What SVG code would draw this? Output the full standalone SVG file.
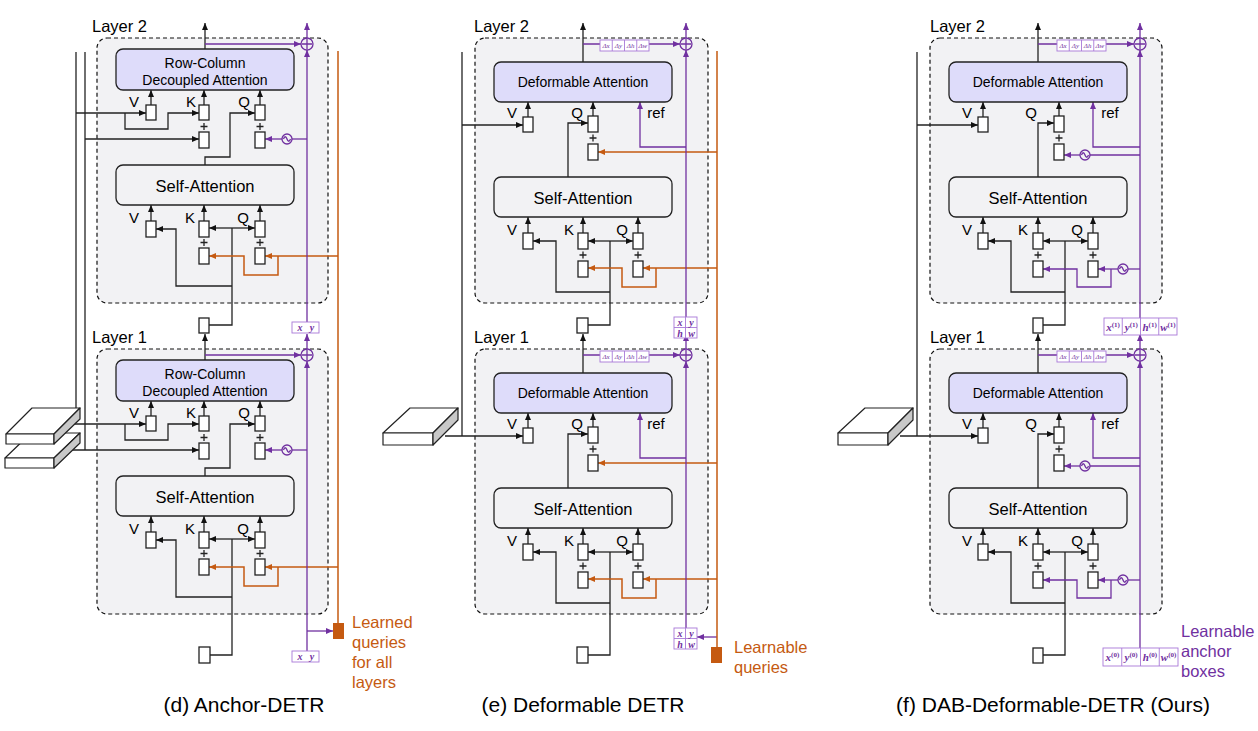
<svg xmlns="http://www.w3.org/2000/svg" width="1258" height="731" viewBox="0 0 1258 731">
<defs>
<style>
.layer{fill:#f2f2f4;stroke:#111;stroke-width:1.2;stroke-dasharray:4 3}
.att{fill:#dedcfa;stroke:#222;stroke-width:1.3}
.sa{fill:#f2f2f4;stroke:#222;stroke-width:1.3}
.bx{fill:#fff;stroke:#222;stroke-width:1.3}
.k{fill:none;stroke:#222;stroke-width:1.3}
.p{fill:none;stroke:#7030a0;stroke-width:1.3}
.o{fill:none;stroke:#c55a11;stroke-width:1.5}
.ka{marker-end:url(#ak)}
.pa{marker-end:url(#ap)}
.oa{marker-end:url(#ao)}
.cell{fill:#fff;stroke:#a878d8;stroke-width:0.9}
.slab{fill:#fff;stroke:#222;stroke-width:1.2;stroke-linejoin:round}
.side{fill:#c8c8c8;stroke:#222;stroke-width:1.2;stroke-linejoin:round}
text{font-family:"Liberation Sans",Arial,sans-serif;fill:#000}
.t14{font-size:14px;text-anchor:middle}
.t16{font-size:16.5px;text-anchor:middle}
.l{font-size:15px;text-anchor:middle}
.ly{font-size:16.5px}
.cap{font-size:21px;text-anchor:middle}
.ol{font-size:16.5px;fill:#c55a11}
.pl{font-size:16.5px;fill:#7030a0}
.m{font-family:"Liberation Serif",serif;font-style:italic;font-weight:bold;font-size:10px;fill:#7030a0;text-anchor:middle}
.ms{font-family:"Liberation Serif",serif;font-style:italic;font-size:7px;fill:#7030a0;text-anchor:middle}
.mb{font-family:"Liberation Serif",serif;font-style:italic;font-weight:bold;font-size:11px;fill:#7030a0;text-anchor:middle}
.sup{font-size:7px;font-style:normal}
</style>
<marker id="ak" viewBox="0 0 7 6" refX="7" refY="3" markerWidth="7" markerHeight="6" markerUnits="userSpaceOnUse" orient="auto"><path d="M0,0L7,3L0,6z" fill="#111"/></marker>
<marker id="ap" viewBox="0 0 7 6" refX="7" refY="3" markerWidth="7" markerHeight="6" markerUnits="userSpaceOnUse" orient="auto"><path d="M0,0L7,3L0,6z" fill="#7030a0"/></marker>
<marker id="ao" viewBox="0 0 7 6" refX="7" refY="3" markerWidth="7" markerHeight="6" markerUnits="userSpaceOnUse" orient="auto"><path d="M0,0L7,3L0,6z" fill="#c55a11"/></marker>
</defs>
<rect width="1258" height="731" fill="#fff"/>

<g id="layers">
<g id="d-layer2"><rect class="layer" x="97" y="38" width="231" height="265" rx="10"/><text class="ly" x="92" y="32">Layer 2</text></g>
<g id="d-layer1"><rect class="layer" x="97" y="349" width="231" height="265" rx="10"/><text class="ly" x="92" y="343">Layer 1</text></g>
<g id="e-layer2"><rect class="layer" x="475" y="38" width="233" height="265" rx="10"/><text class="ly" x="474" y="32">Layer 2</text></g>
<g id="e-layer1"><rect class="layer" x="475" y="349" width="233" height="265" rx="10"/><text class="ly" x="474" y="343">Layer 1</text></g>
<g id="f-layer2"><rect class="layer" x="930" y="38" width="232" height="265" rx="10"/><text class="ly" x="930" y="32">Layer 2</text></g>
<g id="f-layer1"><rect class="layer" x="930" y="349" width="232" height="265" rx="10"/><text class="ly" x="930" y="343">Layer 1</text></g>
</g>

<g id="connectors">
<!-- panel d, per layer -->
<g id="d2-conn">
<path class="k ka" d="M151,105V90"/><path class="k ka" d="M204,105V90"/><path class="k ka" d="M260,105V90"/>
<path class="k ka" d="M151,221V205"/><path class="k ka" d="M204,221V205"/><path class="k ka" d="M260,221V205"/>
<path class="k ka" d="M205,49V23"/>
<path class="k ka" d="M205,165V157H230V113H255"/>
<path class="k ka" d="M232,228H209"/><path class="k ka" d="M232,228H255"/><path class="k" d="M232,228V286"/>
<path class="k ka" d="M232,286H176V229H156"/>
<path class="o oa" d="M338,256H265"/><path class="o oa" d="M278,256V275H244V256H209"/>
<path class="p" d="M307,139H292"/><path class="p pa" d="M282,139H265"/>
<path class="p pa" d="M205,44H301"/><path class="p pa" d="M307,38V23"/>
</g>
<g id="d1-conn" transform="translate(0,311)">
<path class="k ka" d="M151,105V90"/><path class="k ka" d="M204,105V90"/><path class="k ka" d="M260,105V90"/>
<path class="k ka" d="M151,221V205"/><path class="k ka" d="M204,221V205"/><path class="k ka" d="M260,221V205"/>
<path class="k ka" d="M205,49V23"/>
<path class="k ka" d="M205,165V157H230V113H255"/>
<path class="k ka" d="M232,228H209"/><path class="k ka" d="M232,228H255"/><path class="k" d="M232,228V286"/>
<path class="k ka" d="M232,286H176V229H156"/>
<path class="o oa" d="M338,256H265"/><path class="o oa" d="M278,256V275H244V256H209"/>
<path class="p" d="M307,139H292"/><path class="p pa" d="M282,139H265"/>
<path class="p pa" d="M205,44H301"/><path class="p pa" d="M307,38V23"/>
</g>
<g id="d-ext">
<path class="k" d="M76,52V423"/><path class="k" d="M85,52V450"/>
<path class="k ka" d="M76,113H146"/><path class="k ka" d="M125,113V129H168V113H199"/><path class="k ka" d="M85,139H199"/>
<path class="k ka" d="M72,424H146"/><path class="k ka" d="M125,424V440H168V424H199"/><path class="k ka" d="M68,450H199"/>
<path class="k" d="M232,286V325H209"/><path class="k" d="M232,597V655H210"/>
<path class="p pa" d="M307,322V50"/><path class="p pa" d="M307,651V361"/><path class="p pa" d="M307,631H333"/>
<path class="o" d="M338,51V623"/>
</g>
<!-- panel e -->
<g id="e2-conn">
<path class="k ka" d="M528,117V102"/><path class="k ka" d="M593,116V102"/>
<path class="k ka" d="M528,233V217"/><path class="k ka" d="M583,233V217"/><path class="k ka" d="M638,233V217"/>
<path class="k ka" d="M583,62V23"/>
<path class="k ka" d="M568,177V123H588"/>
<path class="k ka" d="M610,241H588"/><path class="k ka" d="M610,241H633"/><path class="k" d="M610,241V292"/>
<path class="k ka" d="M610,292H556V241H533"/>
<path class="o oa" d="M717,152H598"/>
<path class="o oa" d="M717,268H643"/><path class="o oa" d="M656,268V287H622V268H588"/>
<path class="p pa" d="M686,147H640V102"/>
<path class="p pa" d="M583,44H680"/><path class="p pa" d="M686,38V23"/>
</g>
<g id="e1-conn" transform="translate(0,311)">
<path class="k ka" d="M528,117V102"/><path class="k ka" d="M593,116V102"/>
<path class="k ka" d="M528,233V217"/><path class="k ka" d="M583,233V217"/><path class="k ka" d="M638,233V217"/>
<path class="k ka" d="M583,62V23"/>
<path class="k ka" d="M568,177V123H588"/>
<path class="k ka" d="M610,241H588"/><path class="k ka" d="M610,241H633"/><path class="k" d="M610,241V292"/>
<path class="k ka" d="M610,292H556V241H533"/>
<path class="o oa" d="M717,152H598"/>
<path class="o oa" d="M717,268H643"/><path class="o oa" d="M656,268V287H622V268H588"/>
<path class="p pa" d="M686,147H640V102"/>
<path class="p pa" d="M583,44H680"/><path class="p pa" d="M686,38V23"/>
</g>
<g id="e-ext">
<path class="k" d="M462,52V436"/>
<path class="k ka" d="M462,125H523"/><path class="k ka" d="M445,436H523"/>
<path class="k" d="M610,292V325H588"/><path class="k" d="M610,603V655H588"/>
<path class="p pa" d="M686,317V50"/><path class="p pa" d="M686,628V361"/><path class="p pa" d="M717,637H697"/>
<path class="o" d="M717,51V647"/>
</g>
<!-- panel f -->
<g id="f2-conn">
<path class="k ka" d="M983,117V102"/><path class="k ka" d="M1059,116V102"/>
<path class="k ka" d="M983,233V217"/><path class="k ka" d="M1038,233V217"/><path class="k ka" d="M1093,233V217"/>
<path class="k ka" d="M1038,62V23"/>
<path class="k ka" d="M1038,177V123H1054"/>
<path class="k ka" d="M1065,241H1043"/><path class="k ka" d="M1065,241H1088"/><path class="k" d="M1065,241V292"/>
<path class="k ka" d="M1065,292H1011V241H988"/>
<path class="p pa" d="M1140,147H1093V102"/>
<path class="p" d="M1140,155H1090"/><path class="p pa" d="M1080,155H1064"/>
<path class="p pa" d="M1038,44H1134"/><path class="p pa" d="M1140,38V23"/>
<path class="p" d="M1140,269H1128"/><path class="p pa" d="M1118,269H1098"/>
<path class="p pa" d="M1111,269V287H1077V269H1043"/>
</g>
<g id="f1-conn" transform="translate(0,311)">
<path class="k ka" d="M983,117V102"/><path class="k ka" d="M1059,116V102"/>
<path class="k ka" d="M983,233V217"/><path class="k ka" d="M1038,233V217"/><path class="k ka" d="M1093,233V217"/>
<path class="k ka" d="M1038,62V23"/>
<path class="k ka" d="M1038,177V123H1054"/>
<path class="k ka" d="M1065,241H1043"/><path class="k ka" d="M1065,241H1088"/><path class="k" d="M1065,241V292"/>
<path class="k ka" d="M1065,292H1011V241H988"/>
<path class="p pa" d="M1140,147H1093V102"/>
<path class="p" d="M1140,155H1090"/><path class="p pa" d="M1080,155H1064"/>
<path class="p pa" d="M1038,44H1134"/><path class="p pa" d="M1140,38V23"/>
<path class="p" d="M1140,269H1128"/><path class="p pa" d="M1118,269H1098"/>
<path class="p pa" d="M1111,269V287H1077V269H1043"/>
</g>
<g id="f-ext">
<path class="k" d="M917,52V436"/>
<path class="k ka" d="M917,125H978"/><path class="k ka" d="M900,436H978"/>
<path class="k" d="M1065,292V325H1043"/><path class="k" d="M1065,603V655H1043"/>
<path class="p pa" d="M1140,318V50"/><path class="p pa" d="M1140,648V361"/>
</g>
</g>

<!-- ================= Panel d nodes ================= -->
<g id="d2-nodes">
<g id="d2-rca"><rect class="att" x="116" y="49" width="178" height="41" rx="7"/><text class="t14" x="205" y="68">Row-Column</text><text class="t14" x="205" y="85">Decoupled Attention</text></g>
<g id="d2-sa"><rect class="sa" x="116" y="165" width="178" height="40" rx="7"/><text class="t16" x="205" y="192">Self-Attention</text></g>
<g id="d2-v"><rect class="bx" x="146" y="105" width="10" height="15"/><text class="l" x="134" y="107">V</text></g>
<g id="d2-k"><rect class="bx" x="199" y="105" width="10" height="15"/><rect class="bx" x="199" y="132" width="10" height="16"/><path class="k" d="M200.5,126.5h7M204,123v7"/><text class="l" x="191" y="107">K</text></g>
<g id="d2-q"><rect class="bx" x="255" y="105" width="10" height="15"/><rect class="bx" x="255" y="132" width="10" height="16"/><path class="k" d="M256.5,126.5h7M260,123v7"/><text class="l" x="244" y="107">Q</text></g>
<g id="d2-sv"><rect class="bx" x="146" y="221" width="10" height="16"/><text class="l" x="134" y="223">V</text></g>
<g id="d2-sk"><rect class="bx" x="199" y="221" width="10" height="16"/><rect class="bx" x="199" y="248" width="10" height="16"/><path class="k" d="M200.5,242.5h7M204,239v7"/><text class="l" x="190" y="223">K</text></g>
<g id="d2-sq"><rect class="bx" x="255" y="221" width="10" height="16"/><rect class="bx" x="255" y="248" width="10" height="16"/><path class="k" d="M256.5,242.5h7M260,239v7"/><text class="l" x="243" y="223">Q</text></g>
<g id="d2-add"><circle class="p" cx="307" cy="44" r="6"/><path class="p" d="M302,44h10M307,39v10"/></g>
<g id="d2-pe"><circle class="p" cx="287" cy="139" r="5"/><path class="p" d="M283.5,139c1,-3 2.5,-3 3.5,0s2.5,3 3.5,0"/></g>
</g>
<g id="d1-nodes" transform="translate(0,311)">
<g id="d1-rca"><rect class="att" x="116" y="49" width="178" height="41" rx="7"/><text class="t14" x="205" y="68">Row-Column</text><text class="t14" x="205" y="85">Decoupled Attention</text></g>
<g id="d1-sa"><rect class="sa" x="116" y="165" width="178" height="40" rx="7"/><text class="t16" x="205" y="192">Self-Attention</text></g>
<g id="d1-v"><rect class="bx" x="146" y="105" width="10" height="15"/><text class="l" x="134" y="107">V</text></g>
<g id="d1-k"><rect class="bx" x="199" y="105" width="10" height="15"/><rect class="bx" x="199" y="132" width="10" height="16"/><path class="k" d="M200.5,126.5h7M204,123v7"/><text class="l" x="191" y="107">K</text></g>
<g id="d1-q"><rect class="bx" x="255" y="105" width="10" height="15"/><rect class="bx" x="255" y="132" width="10" height="16"/><path class="k" d="M256.5,126.5h7M260,123v7"/><text class="l" x="244" y="107">Q</text></g>
<g id="d1-sv"><rect class="bx" x="146" y="221" width="10" height="16"/><text class="l" x="134" y="223">V</text></g>
<g id="d1-sk"><rect class="bx" x="199" y="221" width="10" height="16"/><rect class="bx" x="199" y="248" width="10" height="16"/><path class="k" d="M200.5,242.5h7M204,239v7"/><text class="l" x="190" y="223">K</text></g>
<g id="d1-sq"><rect class="bx" x="255" y="221" width="10" height="16"/><rect class="bx" x="255" y="248" width="10" height="16"/><path class="k" d="M256.5,242.5h7M260,239v7"/><text class="l" x="243" y="223">Q</text></g>
<g id="d1-add"><circle class="p" cx="307" cy="44" r="6"/><path class="p" d="M302,44h10M307,39v10"/></g>
<g id="d1-pe"><circle class="p" cx="287" cy="139" r="5"/><path class="p" d="M283.5,139c1,-3 2.5,-3 3.5,0s2.5,3 3.5,0"/></g>
</g>
<g id="d-mid"><rect class="bx" x="199" y="318" width="10" height="15"/></g>
<g id="d-query"><rect class="bx" x="199" y="647" width="11" height="16"/></g>
<g id="d-xy2"><rect class="cell" x="292" y="322" width="27" height="11"/><text class="m" x="300" y="331">x</text><text class="m" x="312" y="331">y</text></g>
<g id="d-xy0"><rect class="cell" x="292" y="651" width="27" height="11"/><text class="m" x="300" y="660">x</text><text class="m" x="312" y="660">y</text></g>
<g id="d-lq"><rect x="333" y="623" width="11" height="16" fill="#c55a11"/></g>
<g id="d-feat">
<polygon class="slab" points="31,433 80,433 54,458 5,458"/><rect class="slab" x="5" y="458" width="49" height="10"/><polygon class="side" points="54,458 80,433 80,443 54,468"/>
<polygon class="slab" points="32,408 80,408 54,434 6,434"/><rect class="slab" x="6" y="434" width="48" height="10"/><polygon class="side" points="54,434 80,408 80,419 54,444"/>
</g>
<g id="d-label"><text class="ol" x="352" y="628">Learned</text><text class="ol" x="352" y="648">queries</text><text class="ol" x="352" y="668">for all</text><text class="ol" x="352" y="688">layers</text></g>
<text class="cap" x="244" y="712">(d) Anchor-DETR</text>

<!-- ================= Panel e nodes ================= -->
<g id="e2-nodes">
<g id="e2-da"><rect class="att" x="494" y="62" width="178" height="40" rx="7"/><text class="t14" x="583" y="87">Deformable Attention</text></g>
<g id="e2-sa"><rect class="sa" x="494" y="177" width="178" height="40" rx="7"/><text class="t16" x="583" y="204">Self-Attention</text></g>
<g id="e2-v"><rect class="bx" x="523" y="117" width="10" height="15"/><text class="l" x="512" y="118">V</text></g>
<g id="e2-q"><rect class="bx" x="588" y="116" width="10" height="16"/><rect class="bx" x="588" y="144" width="10" height="16"/><path class="k" d="M589.5,138h7M593,134.5v7"/><text class="l" x="577" y="118">Q</text></g>
<text class="l" x="656" y="118">ref</text>
<g id="e2-sv"><rect class="bx" x="523" y="233" width="10" height="16"/><text class="l" x="512" y="235">V</text></g>
<g id="e2-sk"><rect class="bx" x="578" y="233" width="10" height="16"/><rect class="bx" x="578" y="261" width="10" height="16"/><path class="k" d="M579.5,255h7M583,251.5v7"/><text class="l" x="569" y="235">K</text></g>
<g id="e2-sq"><rect class="bx" x="633" y="233" width="10" height="16"/><rect class="bx" x="633" y="261" width="10" height="16"/><path class="k" d="M634.5,255h7M638,251.5v7"/><text class="l" x="622" y="235">Q</text></g>
<g id="e2-add"><circle class="p" cx="686" cy="44" r="6"/><path class="p" d="M681,44h10M686,39v10"/></g>
<g id="e2-delta"><rect class="cell" x="600" y="40" width="49" height="11"/><path class="cell" d="M612.25,40v11M624.5,40v11M636.75,40v11"/><text class="ms" x="606.1" y="48">Δx</text><text class="ms" x="618.4" y="48">Δy</text><text class="ms" x="630.6" y="48">Δh</text><text class="ms" x="642.9" y="48">Δw</text></g>
</g>
<g id="e1-nodes" transform="translate(0,311)">
<g id="e1-da"><rect class="att" x="494" y="62" width="178" height="40" rx="7"/><text class="t14" x="583" y="87">Deformable Attention</text></g>
<g id="e1-sa"><rect class="sa" x="494" y="177" width="178" height="40" rx="7"/><text class="t16" x="583" y="204">Self-Attention</text></g>
<g id="e1-v"><rect class="bx" x="523" y="117" width="10" height="15"/><text class="l" x="512" y="118">V</text></g>
<g id="e1-q"><rect class="bx" x="588" y="116" width="10" height="16"/><rect class="bx" x="588" y="144" width="10" height="16"/><path class="k" d="M589.5,138h7M593,134.5v7"/><text class="l" x="577" y="118">Q</text></g>
<text class="l" x="656" y="118">ref</text>
<g id="e1-sv"><rect class="bx" x="523" y="233" width="10" height="16"/><text class="l" x="512" y="235">V</text></g>
<g id="e1-sk"><rect class="bx" x="578" y="233" width="10" height="16"/><rect class="bx" x="578" y="261" width="10" height="16"/><path class="k" d="M579.5,255h7M583,251.5v7"/><text class="l" x="569" y="235">K</text></g>
<g id="e1-sq"><rect class="bx" x="633" y="233" width="10" height="16"/><rect class="bx" x="633" y="261" width="10" height="16"/><path class="k" d="M634.5,255h7M638,251.5v7"/><text class="l" x="622" y="235">Q</text></g>
<g id="e1-add"><circle class="p" cx="686" cy="44" r="6"/><path class="p" d="M681,44h10M686,39v10"/></g>
<g id="e1-delta"><rect class="cell" x="600" y="40" width="49" height="11"/><path class="cell" d="M612.25,40v11M624.5,40v11M636.75,40v11"/><text class="ms" x="606.1" y="48">Δx</text><text class="ms" x="618.4" y="48">Δy</text><text class="ms" x="630.6" y="48">Δh</text><text class="ms" x="642.9" y="48">Δw</text></g>
</g>
<g id="e-mid"><rect class="bx" x="577" y="318" width="11" height="15"/></g>
<g id="e-query"><rect class="bx" x="577" y="647" width="11" height="16"/></g>
<g id="e-box1"><rect class="cell" x="674" y="317" width="23" height="21"/><path class="cell" d="M685.5,317v21M674,327.5h23"/><text class="m" x="680" y="326" font-size="9">x</text><text class="m" x="691.5" y="326" font-size="9">y</text><text class="m" x="680" y="336.5" font-size="9">h</text><text class="m" x="691.5" y="336.5" font-size="9">w</text></g>
<g id="e-box0"><rect class="cell" x="674" y="628" width="23" height="21"/><path class="cell" d="M685.5,628v21M674,638.5h23"/><text class="m" x="680" y="637" font-size="9">x</text><text class="m" x="691.5" y="637" font-size="9">y</text><text class="m" x="680" y="647.5" font-size="9">h</text><text class="m" x="691.5" y="647.5" font-size="9">w</text></g>
<g id="e-lq"><rect x="711" y="647" width="11" height="16" fill="#c55a11"/></g>
<g id="e-feat"><polygon class="slab" points="410,408 458,408 433,433 383,433"/><rect class="slab" x="383" y="433" width="50" height="12"/><polygon class="side" points="433,433 458,408 458,420 433,445"/></g>
<g id="e-label"><text class="ol" x="734" y="653">Learnable</text><text class="ol" x="734" y="673">queries</text></g>
<text class="cap" x="583" y="712">(e) Deformable DETR</text>

<!-- ================= Panel f nodes ================= -->
<g id="f2-nodes">
<g id="f2-da"><rect class="att" x="949" y="62" width="178" height="40" rx="7"/><text class="t14" x="1038" y="87">Deformable Attention</text></g>
<g id="f2-sa"><rect class="sa" x="949" y="177" width="178" height="40" rx="7"/><text class="t16" x="1038" y="204">Self-Attention</text></g>
<g id="f2-v"><rect class="bx" x="978" y="117" width="10" height="15"/><text class="l" x="967" y="118">V</text></g>
<g id="f2-q"><rect class="bx" x="1054" y="116" width="10" height="16"/><rect class="bx" x="1054" y="144" width="10" height="16"/><path class="k" d="M1055.5,138h7M1059,134.5v7"/><text class="l" x="1031" y="118">Q</text></g>
<text class="l" x="1110" y="118">ref</text>
<g id="f2-sv"><rect class="bx" x="978" y="233" width="10" height="16"/><text class="l" x="967" y="235">V</text></g>
<g id="f2-sk"><rect class="bx" x="1033" y="233" width="10" height="16"/><rect class="bx" x="1033" y="261" width="10" height="16"/><path class="k" d="M1034.5,255h7M1038,251.5v7"/><text class="l" x="1023" y="235">K</text></g>
<g id="f2-sq"><rect class="bx" x="1088" y="233" width="10" height="16"/><rect class="bx" x="1088" y="261" width="10" height="16"/><path class="k" d="M1089.5,255h7M1093,251.5v7"/><text class="l" x="1077" y="235">Q</text></g>
<g id="f2-add"><circle class="p" cx="1140" cy="44" r="6"/><path class="p" d="M1135,44h10M1140,39v10"/></g>
<g id="f2-pe1"><circle class="p" cx="1085" cy="155" r="5"/><path class="p" d="M1081.5,155c1,-3 2.5,-3 3.5,0s2.5,3 3.5,0"/></g>
<g id="f2-pe2"><circle class="p" cx="1123" cy="269" r="5"/><path class="p" d="M1119.5,269c1,-3 2.5,-3 3.5,0s2.5,3 3.5,0"/></g>
<g id="f2-delta"><rect class="cell" x="1057" y="40" width="49" height="11"/><path class="cell" d="M1069.25,40v11M1081.5,40v11M1093.75,40v11"/><text class="ms" x="1063.1" y="48">Δx</text><text class="ms" x="1075.4" y="48">Δy</text><text class="ms" x="1087.6" y="48">Δh</text><text class="ms" x="1099.9" y="48">Δw</text></g>
</g>
<g id="f1-nodes" transform="translate(0,311)">
<g id="f1-da"><rect class="att" x="949" y="62" width="178" height="40" rx="7"/><text class="t14" x="1038" y="87">Deformable Attention</text></g>
<g id="f1-sa"><rect class="sa" x="949" y="177" width="178" height="40" rx="7"/><text class="t16" x="1038" y="204">Self-Attention</text></g>
<g id="f1-v"><rect class="bx" x="978" y="117" width="10" height="15"/><text class="l" x="967" y="118">V</text></g>
<g id="f1-q"><rect class="bx" x="1054" y="116" width="10" height="16"/><rect class="bx" x="1054" y="144" width="10" height="16"/><path class="k" d="M1055.5,138h7M1059,134.5v7"/><text class="l" x="1031" y="118">Q</text></g>
<text class="l" x="1110" y="118">ref</text>
<g id="f1-sv"><rect class="bx" x="978" y="233" width="10" height="16"/><text class="l" x="967" y="235">V</text></g>
<g id="f1-sk"><rect class="bx" x="1033" y="233" width="10" height="16"/><rect class="bx" x="1033" y="261" width="10" height="16"/><path class="k" d="M1034.5,255h7M1038,251.5v7"/><text class="l" x="1023" y="235">K</text></g>
<g id="f1-sq"><rect class="bx" x="1088" y="233" width="10" height="16"/><rect class="bx" x="1088" y="261" width="10" height="16"/><path class="k" d="M1089.5,255h7M1093,251.5v7"/><text class="l" x="1077" y="235">Q</text></g>
<g id="f1-add"><circle class="p" cx="1140" cy="44" r="6"/><path class="p" d="M1135,44h10M1140,39v10"/></g>
<g id="f1-pe1"><circle class="p" cx="1085" cy="155" r="5"/><path class="p" d="M1081.5,155c1,-3 2.5,-3 3.5,0s2.5,3 3.5,0"/></g>
<g id="f1-pe2"><circle class="p" cx="1123" cy="269" r="5"/><path class="p" d="M1119.5,269c1,-3 2.5,-3 3.5,0s2.5,3 3.5,0"/></g>
<g id="f1-delta"><rect class="cell" x="1057" y="40" width="49" height="11"/><path class="cell" d="M1069.25,40v11M1081.5,40v11M1093.75,40v11"/><text class="ms" x="1063.1" y="48">Δx</text><text class="ms" x="1075.4" y="48">Δy</text><text class="ms" x="1087.6" y="48">Δh</text><text class="ms" x="1099.9" y="48">Δw</text></g>
</g>
<g id="f-mid"><rect class="bx" x="1033" y="318" width="10" height="15"/></g>
<g id="f-query"><rect class="bx" x="1033" y="648" width="10" height="15"/></g>
<g id="f-box1"><rect class="cell" x="1104" y="318" width="73" height="17"/><path class="cell" d="M1122.25,318v17M1140.5,318v17M1158.75,318v17"/>
<text class="mb" x="1113" y="330.5">x<tspan class="sup" dy="-4">(1)</tspan></text><text class="mb" x="1131.4" y="330.5">y<tspan class="sup" dy="-4">(1)</tspan></text><text class="mb" x="1149.6" y="330.5">h<tspan class="sup" dy="-4">(1)</tspan></text><text class="mb" x="1167.9" y="330.5">w<tspan class="sup" dy="-4">(1)</tspan></text></g>
<g id="f-box0"><rect class="cell" x="1103" y="648" width="75" height="18"/><path class="cell" d="M1121.75,648v18M1140.5,648v18M1159.25,648v18"/>
<text class="mb" x="1112.4" y="661">x<tspan class="sup" dy="-4">(0)</tspan></text><text class="mb" x="1131.1" y="661">y<tspan class="sup" dy="-4">(0)</tspan></text><text class="mb" x="1149.9" y="661">h<tspan class="sup" dy="-4">(0)</tspan></text><text class="mb" x="1168.6" y="661">w<tspan class="sup" dy="-4">(0)</tspan></text></g>
<g id="f-feat"><polygon class="slab" points="865,408 913,408 888,433 838,433"/><rect class="slab" x="838" y="433" width="50" height="12"/><polygon class="side" points="888,433 913,408 913,420 888,445"/></g>
<g id="f-label"><text class="pl" x="1181" y="637">Learnable</text><text class="pl" x="1181" y="657">anchor</text><text class="pl" x="1181" y="677">boxes</text></g>
<text class="cap" x="1053" y="712">(f) DAB-Deformable-DETR (Ours)</text>
</svg>
